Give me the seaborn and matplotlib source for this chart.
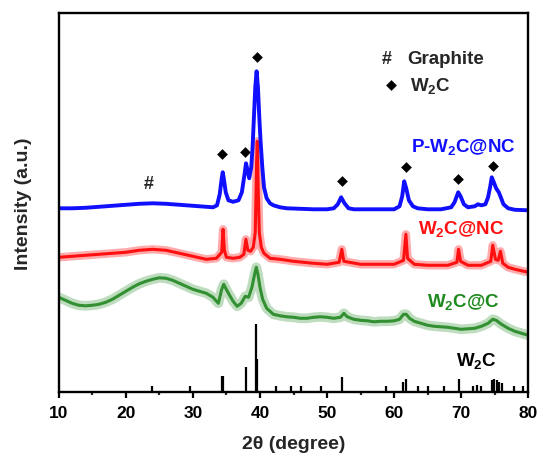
import matplotlib
matplotlib.use("Agg")
import matplotlib.pyplot as plt
from matplotlib.ticker import MultipleLocator
import pandas as pd
import seaborn as sns

# ---- XRD patterns (2theta in degrees, intensity in arbitrary offset units) ----
tt_pw2c = [10, 12, 14, 16, 18, 20, 22, 24, 26, 28, 30, 32, 33, 33.6, 34.0, 34.3, 34.45, 34.6, 34.9,
           35.3, 36.0, 36.8, 37.3, 37.7, 37.92, 38.15, 38.4, 38.7, 38.9, 39.1, 39.3, 39.5, 39.7, 39.9,
           40.1, 40.35, 40.6, 41.0, 41.5, 42, 43, 44, 46, 48, 50, 51, 51.6, 52.1, 52.6, 53.2, 54, 56,
           58, 60, 60.8, 61.2, 61.5, 61.8, 62.2, 62.8, 63.5, 65, 67, 68.5, 69.0, 69.55, 69.9, 70.4, 71,
           72, 72.5, 73, 73.6, 74.0, 74.3, 74.55, 74.8, 75.2, 75.6, 75.9, 76.3, 77, 78, 80]
int_pw2c = [184, 184, 184.5, 185.5, 186.5, 187.5, 188.5, 189, 188.5, 187.5, 186.5, 185.5, 185, 187, 198,
            214, 220, 214, 200, 192, 190.5, 192, 200, 218, 229, 222, 214, 225, 245, 275, 305, 321, 305,
            275, 250, 225, 205, 194, 189, 187, 185, 184, 183.5, 183, 183, 184, 188, 195, 189, 184, 183,
            183, 183, 183, 186, 196, 211, 204, 192, 186, 184, 183, 183, 185, 190, 200, 196, 188, 185,
            186, 188, 187, 188, 195, 205, 215, 211, 204, 200, 195, 188, 184, 182.5, 182]

tt_w2cnc = [10, 12, 14, 16, 18, 20, 22, 24, 26, 28, 30, 32, 33.5, 34.3, 34.5, 34.7, 35.0, 36, 37,
            37.6, 37.9, 38.2, 38.6, 39.0, 39.3, 39.5, 39.6, 39.75, 39.9, 40.2, 40.6, 41.5, 43, 45,
            48, 50, 51.8, 52.2, 52.5, 55, 58, 60, 61.4, 61.75, 62.0, 63, 65, 68, 69.35, 69.6, 69.9,
            71, 73, 74.4, 74.7, 75.1, 75.5, 75.85, 76.2, 77, 78, 80]
int_w2cnc = [135, 136, 137, 138, 139, 140, 142, 143, 142, 139, 136, 133, 134, 140, 163, 142, 135,
             134, 135, 138, 153, 142, 141, 145, 160, 230, 251, 200, 160, 145, 139, 134, 133, 131,
             129, 128, 130, 143, 131, 128, 128, 128, 132, 158, 134, 128, 127, 127, 130, 143, 131,
             127, 127, 131, 147, 133, 132, 141, 129, 125, 123, 120]

tt_w2cc = [10, 11, 12, 13, 14, 15, 16, 17, 18, 19, 20, 21, 22, 23, 24, 25, 26, 27, 28, 29, 30, 31,
           32, 33, 33.8, 34.3, 34.6, 34.9, 35.3, 36.0, 36.6, 37.2, 37.8, 38.3, 38.8, 39.2, 39.45,
           39.7, 40.0, 40.4, 41, 42, 43, 44, 45, 46, 47, 48, 49, 50, 51, 52, 52.5, 53, 54, 55, 56,
           57, 58, 59, 60, 60.8, 61.4, 61.8, 62.3, 63, 64, 65, 66, 67, 68, 69, 70, 71, 72, 73, 74,
           74.7, 75.2, 76, 77, 78, 79, 80]
int_w2cc = [95, 92, 89, 87, 86.5, 87, 88, 90, 93, 97, 101, 105, 108.5, 111, 113, 114.5, 114, 112,
            109, 106, 103, 101, 99, 95, 89, 103, 108, 104, 99, 91, 86, 89, 96, 95, 105, 118, 125,
            118, 105, 93, 84, 78, 76.5, 75.5, 75, 74, 74, 75, 75.5, 75, 74, 75, 79, 75.5, 73, 72,
            71.5, 70.5, 71, 71, 71.5, 73, 78, 78, 74, 71, 69, 67, 66, 65.5, 65, 64, 63, 63.5, 64,
            66, 69, 73, 72, 68, 64, 61, 59, 57]

# ---- W2C reference pattern (stick positions and relative heights) ----
ref_pos = [23.9, 29.5, 34.35, 34.55, 37.92, 39.4, 39.6, 42.4, 44.6, 46.1, 49.05, 52.2, 58.8, 61.3,
           61.8, 63.5, 65.1, 67.5, 69.7, 71.7, 72.3, 72.95, 74.55, 74.93, 75.3, 75.65, 76.05, 77.9,
           79.25]
ref_int = [6, 6, 16, 16, 25.6, 68, 33, 6, 6, 6, 6, 15, 6, 10, 13.5, 6, 6, 6, 13.5, 6, 7, 6, 12, 13,
           12, 10, 9, 6, 6]

# ---- W2C peak markers above the P-W2C@NC pattern ----
mark_x = [34.34, 37.72, 39.6, 52.18, 61.72, 69.56, 74.69]
mark_y = [238.3, 240, 335.6, 211, 225.6, 213.3, 226]

sns.set_theme(style="ticks")
plt.rcParams["font.family"] = ["Liberation Sans", "DejaVu Sans"]
plt.rcParams["font.weight"] = "bold"
plt.rcParams["mathtext.fontset"] = "custom"
plt.rcParams["mathtext.rm"] = "Liberation Sans:bold"
plt.rcParams["mathtext.bf"] = "Liberation Sans:bold"
plt.rcParams["mathtext.it"] = "Liberation Sans:bold"
plt.rcParams["mathtext.default"] = "rm"

fig = plt.figure(figsize=(5.38, 4.6), dpi=100)
ax = fig.add_axes([0.1091, 0.145, 0.8729, 0.8246])

df_pw = pd.DataFrame({"tt": tt_pw2c, "I": int_pw2c})
df_nc = pd.DataFrame({"tt": tt_w2cnc, "I": int_w2cnc})
df_c = pd.DataFrame({"tt": tt_w2cc, "I": int_w2cc})

GREEN = "#2a8c2a"
RED = "#ff1010"
BLUE = "#1010ff"

# soft band under each noisy pattern, then the pattern itself
sns.lineplot(data=df_c, x="tt", y="I", ax=ax, color=GREEN, lw=7.0, alpha=0.3,
             sort=False, estimator=None)
sns.lineplot(data=df_c, x="tt", y="I", ax=ax, color=GREEN, lw=2.2, alpha=0.95,
             sort=False, estimator=None)
sns.lineplot(data=df_nc, x="tt", y="I", ax=ax, color=RED, lw=6.0, alpha=0.35,
             sort=False, estimator=None)
sns.lineplot(data=df_nc, x="tt", y="I", ax=ax, color=RED, lw=2.2,
             sort=False, estimator=None)
sns.lineplot(data=df_pw, x="tt", y="I", ax=ax, color=BLUE, lw=2.8,
             sort=False, estimator=None)

ax.vlines(ref_pos, 0, ref_int, color="black", lw=1.6)

sns.scatterplot(x=mark_x, y=mark_y, ax=ax, marker="D", s=30, color="black", linewidth=0)

# graphite marker and legend block
ax.text(23.46, 208.3, "#", fontsize=13, fontweight="bold", ha="center", va="center")
ax.text(58.9, 334, "#", fontsize=13, fontweight="bold", ha="center", va="center")
ax.text(61.9, 334, "Graphite", fontsize=13.5, fontweight="bold", ha="left", va="center")
sns.scatterplot(x=[59.53], y=[307.3], ax=ax, marker="D", s=30, color="black", linewidth=0)
ax.text(62.36, 307.5, "W$_2$C", fontsize=13.5, fontweight="bold", ha="left", va="center")

# sample labels
ax.text(70.26, 246, "P-W$_2$C@NC", fontsize=13.5, fontweight="bold", color=BLUE,
        ha="center", va="center")
ax.text(69.96, 164.5, "W$_2$C@NC", fontsize=13.5, fontweight="bold", color=RED,
        ha="center", va="center")
ax.text(70.26, 91.5, "W$_2$C@C", fontsize=13.5, fontweight="bold", color="#1f8a1f",
        ha="center", va="center")
ax.text(72.2, 32.5, "W$_2$C", fontsize=13.5, fontweight="bold", color="black",
        ha="center", va="center")

ax.set_xlim(10, 80)
ax.set_ylim(0, 379.3)
ax.xaxis.set_major_locator(MultipleLocator(10))
ax.xaxis.set_minor_locator(MultipleLocator(5))
ax.set_yticks([])
ax.tick_params(axis="x", which="major", direction="out", length=4, width=1.6, pad=5,
               labelsize=12.5, colors="black")
ax.tick_params(axis="x", which="minor", direction="out", length=2.5, width=1.6)
for lab in ax.get_xticklabels():
    lab.set_fontweight("bold")
for sp in ax.spines.values():
    sp.set_visible(True)
    sp.set_linewidth(1.7)
    sp.set_color("black")

ax.set_xlabel("2θ (degree)", fontsize=14, fontweight="bold", labelpad=11)
ax.set_ylabel("Intensity (a.u.)", fontsize=14, fontweight="bold", labelpad=19)

fig.savefig("out.png", dpi=100)
